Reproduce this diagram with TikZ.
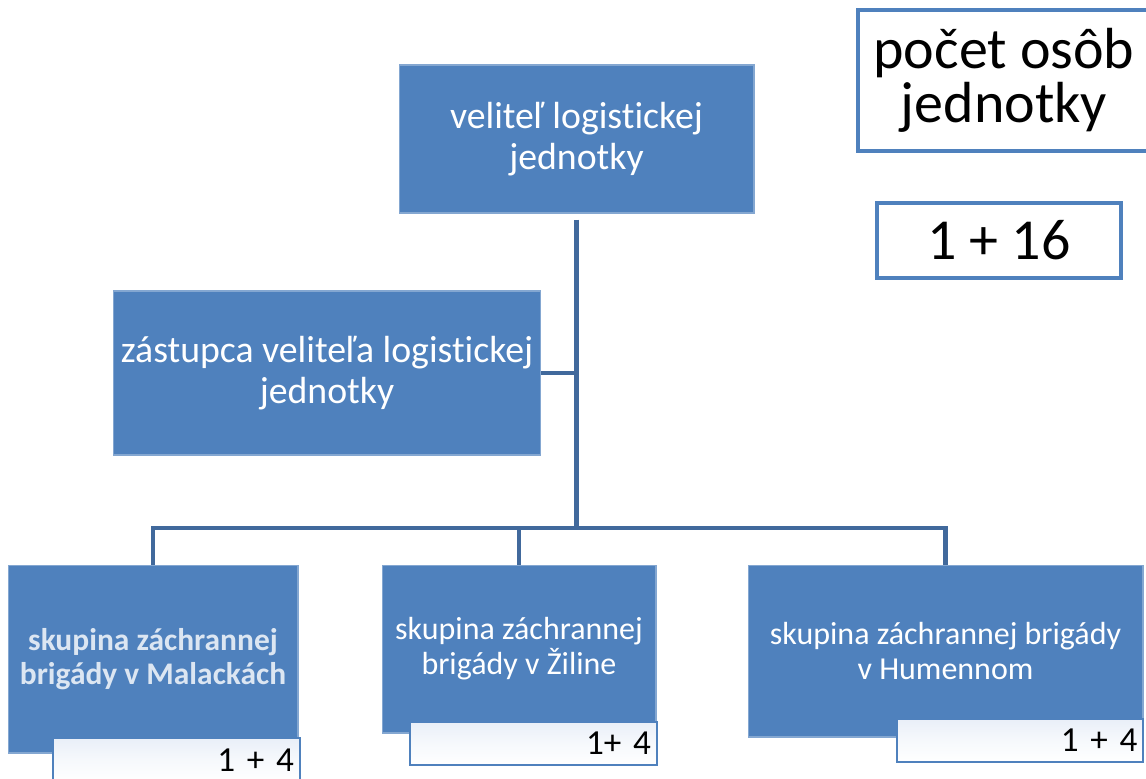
\documentclass[tikz,border=0pt]{standalone}
\usepackage{fontspec}
\setmainfont{Carlito}[Ligatures=NoCommon]
\usetikzlibrary{positioning}
\definecolor{boxblue}{HTML}{4F81BD}
\definecolor{linkblue}{HTML}{41699C}
\definecolor{paleblue}{HTML}{E9EFF8}
\definecolor{glowtext}{HTML}{DCE6F2}

\tikzset{
  unitbox/.style={fill=boxblue, draw=boxblue!70!white, line width=0.6pt,
    text=white, align=center, inner sep=0pt},
  countbox/.style={top color=paleblue, bottom color=white, middle color=paleblue!40!white,
    draw=boxblue, line width=1.2pt, inner sep=0pt, text width=4.7cm, align=right,
    font=\fontsize{20}{22}\selectfont},
  sumbox/.style={fill=white, draw=boxblue, line width=2.3pt, align=center, inner sep=0pt,
    font=\fontsize{33}{31}\selectfont},
  link/.style={draw=linkblue, line width=2.3pt}
}

\begin{document}
\begin{tikzpicture}[x=0.02cm, y=-0.02cm]
    \useasboundingbox (0,0) rectangle (1146,778);

    % command level
    \node[unitbox, minimum width=7.1cm, minimum height=2.96cm,
          font=\fontsize{21.5}{23}\selectfont] (cmd) at (576.5,139)
          {veliteľ logistickej\\jednotky};
    \node[unitbox, minimum width=8.56cm, minimum height=3.28cm,
          font=\fontsize{21.5}{23}\selectfont] (deputy) at (327,373)
          {zástupca veliteľa logistickej\\jednotky};

    % rescue groups
    \node[unitbox, minimum width=5.8cm, minimum height=3.76cm, text=glowtext,
          font=\bfseries\fontsize{17.9}{19.5}\selectfont] (grpA) at (153,659)
          {skupina záchrannej\\brigády v Malackách};
    \node[unitbox, minimum width=5.48cm, minimum height=3.36cm,
          font=\fontsize{18.2}{20}\selectfont] (grpB) at (519,649)
          {skupina záchrannej\\brigády v Žiline};
    \node[unitbox, minimum width=7.9cm, minimum height=3.44cm,
          font=\fontsize{18.2}{20}\selectfont] (grpC) at (945.5,651)
          {skupina záchrannej brigády\\v Humennom};

    % head counts of the groups
    \node[countbox, minimum width=4.94cm, minimum height=0.88cm] (cntA) at (176.5,760) {1 + 4};
    \node[countbox, minimum width=4.94cm, minimum height=0.86cm] (cntB) at (533.5,743.5) {1+ 4};
    \node[countbox, minimum width=4.92cm, minimum height=0.86cm] (cntC) at (1020,740.5) {1 + 4};

    % legend and total
    \node[sumbox, minimum width=5.84cm, minimum height=2.82cm] (legend) at (1004,80.5)
          {počet osôb\\jednotky};
    \node[sumbox, minimum width=4.88cm, minimum height=1.5cm] (total) at (999,240.5) {1 + 16};

    % connectors
    \coordinate (hub) at (cmd.south |- 0,528);
    \draw[link] ([yshift=-0.12cm]cmd.south) -- (hub);
    \draw[link] (deputy.east) -- (deputy.east -| cmd.south);
    \draw[link] (grpA.north) |- (hub) -| (grpC.north);
    \draw[link] (grpB.north) -- (grpB.north |- hub);
\end{tikzpicture}
\end{document}
